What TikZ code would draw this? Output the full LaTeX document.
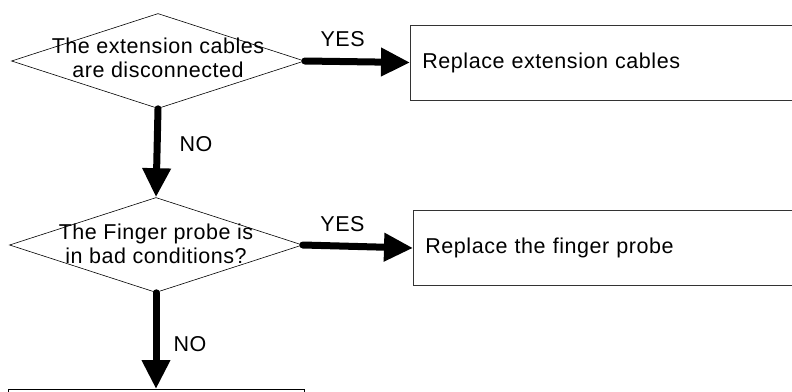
\documentclass[tikz,border=0pt]{standalone}
\usepackage{fontspec}
\setmainfont[LetterSpace=2.5]{Liberation Sans}
\usetikzlibrary{arrows.meta,shapes.geometric}
\newcommand{\DiaW}{293pt}
\newcommand{\DiaH}{95pt}
\newcommand{\BoxH}{75pt}

\begin{document}
\begin{tikzpicture}[x=1pt, y=-1pt,
    dia/.style={diamond, draw=black, line width=0.6pt, inner sep=0pt, minimum width=\DiaW, minimum height=\DiaH},
    qtxt/.style={align=center, inner sep=0pt, font=\fontsize{21.5}{23.5}\selectfont},
    act/.style={rectangle, draw=black!80, line width=0.9pt, minimum height=\BoxH, inner xsep=12pt,
      text width=366pt, align=left, anchor=west, font=\fontsize{21.5}{23.5}\selectfont},
    flow/.style={line width=7pt, line cap=round, -{Triangle[length=29pt, width=27pt]}},
    lbl/.style={inner sep=0pt, font=\fontsize{21.5}{23.5}\selectfont},
  ]
  \clip (0,0) rectangle (792,391);

  % questions
  \node[dia] (d1) at (158,61) {};
  \node[qtxt] (q1) at ([yshift=3pt]d1.center) {The extension cables\\are disconnected};
  \node[dia] (d2) at (156,245) {};
  \node[qtxt] (q2) at ([yshift=1pt]d2.center) {The Finger probe is\\in bad conditions?};

  % actions (they run past the page edges)
  \node[act] (b1) at (410,62.5) {Replace extension cables};
  \node[act] (b2) at (413,248) {Replace the finger probe};
  \node[rectangle, draw=black, line width=0.9pt, minimum width=296pt, minimum height=\BoxH, anchor=north] (b3) at (156,389) {};

  \draw[flow] (d1.east) -- node[lbl, pos=0.36, above=11pt] (y1) {YES} (b1.west);
  \draw[flow] (d2.east) -- node[lbl, pos=0.36, above=11pt] (y2) {YES} (b2.west);
  \draw[flow] (d1.south) -- node[lbl, pos=0.4, right=19pt] (n1) {NO} (d2.north);
  \draw[flow] (d2.south) -- node[lbl, pos=0.53, right=14pt] (n2) {NO} (b3.north);
\end{tikzpicture}
\end{document}
